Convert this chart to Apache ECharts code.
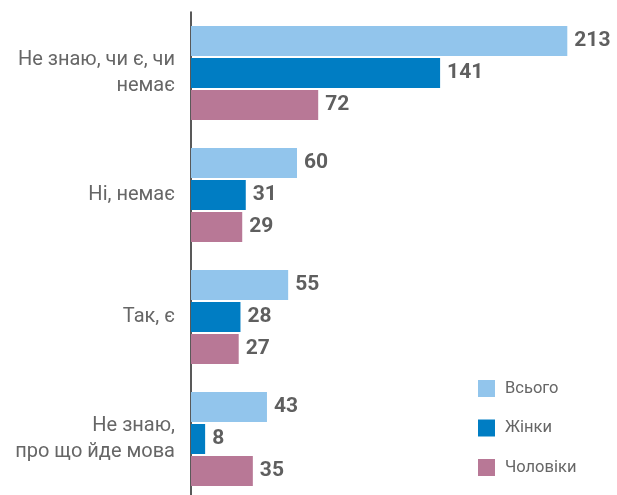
<!DOCTYPE html>
<html>
<head>
<meta charset="utf-8">
<script src="https://cdn.jsdelivr.net/npm/echarts@6/dist/echarts.min.js"></script>
<style>
  html, body { margin: 0; padding: 0; background: #fff; }
  #chart { width: 617px; height: 495px; }
</style>
</head>
<body>
<div id="chart"></div>
<script>
const categories = ['Не знаю, чи є, чи\nнемає', 'Ні, немає', 'Так, є', 'Не знаю,\nпро що йде мова']
const seriesNames = ['Всього', 'Жінки', 'Чоловіки']
const total = [213, 60, 55, 43]
const women = [141, 31, 28, 8]
const men = [72, 29, 27, 35]
const colors = ['#92c5ec', '#007dc3', '#b87896']

const chart = echarts.init(document.getElementById('chart'))

const makeSeries = (name, data, color) => ({
  name,
  type: 'bar',
  data,
  barWidth: 30,
  barGap: '7%',
  itemStyle: { color },
  label: {
    show: true,
    position: 'right',
    distance: 7,
    color: '#5f5f5f',
    fontSize: 21,
    fontWeight: 'bold',
    fontFamily: 'Roboto'
  }
})

chart.setOption({
  animation: false,
  legend: {
    orient: 'vertical',
    left: 473,
    top: 375,
    itemWidth: 17,
    itemHeight: 17,
    itemGap: 22.5,
    icon: 'rect',
    textStyle: { color: '#666', fontSize: 16.5, fontFamily: 'Roboto', padding: [0, 0, 0, 5] },
    data: seriesNames
  },
  grid: { left: 191, top: 12, width: 424, height: 488, outerBoundsMode: 'none', containLabel: false },
  xAxis: {
    type: 'value',
    min: 0,
    max: 240,
    show: false
  },
  yAxis: {
    type: 'category',
    inverse: true,
    data: categories,
    axisLine: { lineStyle: { color: '#222', width: 1.5 } },
    axisTick: { show: false },
    axisLabel: {
      margin: 16,
      color: '#666',
      fontSize: 20,
      lineHeight: 26,
      fontFamily: 'Roboto',
      align: 'right'
    }
  },
  series: [
    makeSeries(seriesNames[0], total, colors[0]),
    makeSeries(seriesNames[1], women, colors[1]),
    makeSeries(seriesNames[2], men, colors[2])
  ]
})
</script>
</body>
</html>
